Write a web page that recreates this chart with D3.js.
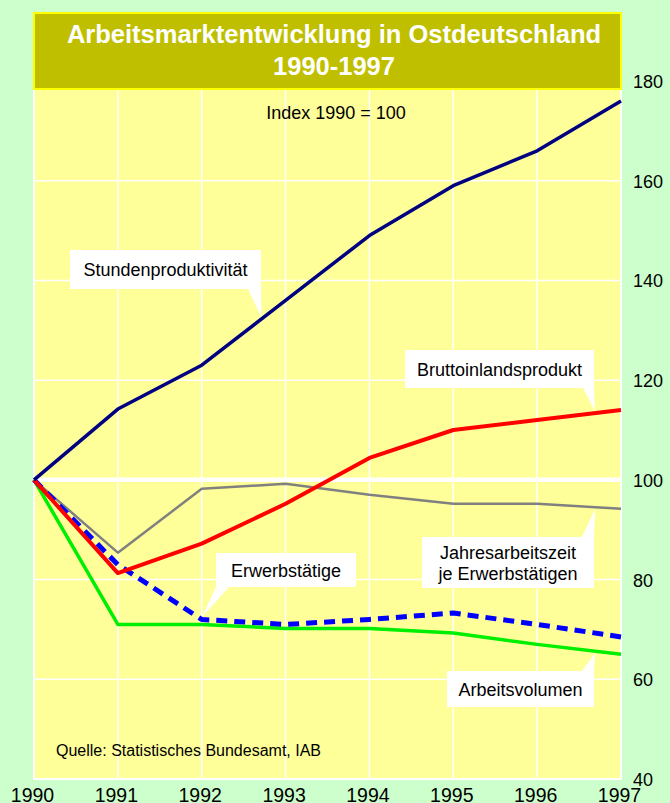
<!DOCTYPE html>
<html><head><meta charset="utf-8">
<script src="https://cdn.jsdelivr.net/npm/d3@7"></script>
<style>body{margin:0;background:#ccffcc;}svg{display:block;font-family:"Liberation Sans",Arial,sans-serif;}</style>
</head><body>
<script>
const years = [1990,1991,1992,1993,1994,1995,1996,1997];
const stundenproduktivitaet = [100,114.2,123,136,149,159,166,176];
const bruttoinlandsprodukt = [100,81.3,87.2,95.2,104.4,110,112,114];
const jahresarbeitszeit = [100,85.4,98.2,99.2,97,95.2,95.2,94.2];
const erwerbstaetige = [100,83,72,71,72,73.3,71,68.5];
const arbeitsvolumen = [100,71,71,70.2,70.2,69.3,67,65];
const yTicks = [40,60,80,100,120,140,160,180];
const titleLines = ["Arbeitsmarktentwicklung in Ostdeutschland","1990-1997"];

const W=670,H=803;
const svg=d3.select("body").append("svg").attr("width",W).attr("height",H);
svg.append("rect").attr("width",W).attr("height",H).attr("fill","#ccffcc");

const x=d3.scaleLinear().domain([1990,1997]).range([34,621]);
const y=d3.scaleLinear().domain([40,180]).range([779,81]);

// plot area
svg.append("rect").attr("x",x(1990)).attr("y",y(180)).attr("width",x(1997)-x(1990)).attr("height",y(40)-y(180))
  .attr("fill","#ffff99");
// grid
svg.append("g").selectAll("line").data(years).join("line")
  .attr("x1",d=>x(d)).attr("x2",d=>x(d)).attr("y1",y(180)).attr("y2",y(40))
  .attr("stroke","#fff").attr("stroke-width",1.5);
svg.append("g").selectAll("line").data(yTicks).join("line")
  .attr("x1",x(1990)).attr("x2",x(1997)).attr("y1",d=>y(d)).attr("y2",d=>y(d))
  .attr("stroke","#fff").attr("stroke-width",d=>d===100?4.5:1.5);
svg.append("rect").attr("x",x(1990)).attr("y",y(180)).attr("width",x(1997)-x(1990)).attr("height",y(40)-y(180))
  .attr("fill","none").attr("stroke","#fff").attr("stroke-width",2);

// title box
svg.append("rect").attr("x",34).attr("y",13).attr("width",587).attr("height",76)
  .attr("fill","#bfbf00").attr("stroke","#ffff00").attr("stroke-width",2);
svg.append("g").selectAll("text").data(titleLines).join("text")
  .attr("x",334).attr("y",(d,i)=>43+i*32).attr("text-anchor","middle")
  .attr("fill","#fff").attr("font-weight","bold").attr("font-size",25.5).text(d=>d);

// axes
const yAxis=d3.axisRight(y).tickValues(yTicks).tickSize(0).tickPadding(0);
const gy=svg.append("g").attr("transform",`translate(633,0)`).call(yAxis);
gy.select(".domain").remove();
gy.selectAll("text").attr("font-size",18).attr("font-family","Liberation Sans, Arial, sans-serif").attr("fill","#000").attr("dy","0.36em");
const xAxis=d3.axisBottom(x).tickValues(years).tickFormat(d3.format("d")).tickSize(0).tickPadding(0);
const gx=svg.append("g").attr("transform",`translate(-2,788)`).call(xAxis);
gx.select(".domain").remove();
gx.selectAll("text").attr("font-size",19.5).attr("font-family","Liberation Sans, Arial, sans-serif").attr("fill","#000").attr("dy","0.72em");

// lines
const line=d3.line().x((d,i)=>x(years[i])).y(d=>y(d));
const series=[
 {v:jahresarbeitszeit,c:"#808080",w:2.5},
 {v:arbeitsvolumen,c:"#00ee00",w:3.5},
 {v:erwerbstaetige,c:"#0000ff",w:5,dash:"11,7"},
 {v:bruttoinlandsprodukt,c:"#ff0000",w:4},
 {v:stundenproduktivitaet,c:"#000080",w:3.5}
];
svg.append("g").selectAll("path").data(series).join("path")
  .attr("d",d=>line(d.v)).attr("fill","none").attr("stroke",d=>d.c).attr("stroke-width",d=>d.w)
  .attr("stroke-dasharray",d=>d.dash||null).attr("stroke-linejoin","round");

// text annotations
svg.append("text").attr("x",336).attr("y",119).attr("text-anchor","middle").attr("font-size",18).text("Index 1990 = 100");
svg.append("text").attr("x",56).attr("y",756).attr("font-size",16).text("Quelle: Statistisches Bundesamt, IAB");

function interp(vals,yr){const i=Math.min(6,Math.floor(yr-1990));const t=yr-1990-i;return vals[i]+(vals[i+1]-vals[i])*t;}
const callouts=[
 {lines:["Stundenproduktivität"],box:[70,250,261,289],side:"bottom",base:[248,261],yr:1992.71,vals:stundenproduktivitaet},
 {lines:["Bruttoinlandsprodukt"],box:[405,350,594,388],side:"bottom",base:[583,594],yr:1996.69,vals:bruttoinlandsprodukt},
 {lines:["Jahresarbeitszeit","je Erwerbstätigen"],box:[422,537,594,588],side:"top",base:[582,594],yr:1996.69,vals:jahresarbeitszeit},
 {lines:["Erwerbstätige"],box:[216,553,356,587],side:"bottom",base:[216,229],yr:1992.0,vals:erwerbstaetige},
 {lines:["Arbeitsvolumen"],box:[447,671,594,707],side:"top",base:[582,594],yr:1996.69,vals:arbeitsvolumen}
];
const cg=svg.append("g");
callouts.forEach(c=>{
  const [x0,y0,x1,y1]=c.box;
  const tx=x(c.yr), ty=y(interp(c.vals,c.yr));
  const by=c.side==="bottom"?y1:y0;
  cg.append("rect").attr("x",x0).attr("y",y0).attr("width",x1-x0).attr("height",y1-y0).attr("fill","#fff");
  cg.append("path").attr("d",`M${c.base[0]},${by}L${tx},${ty+(c.side==="bottom"?-2:2)}L${c.base[1]},${by}Z`).attr("fill","#fff");
  const n=c.lines.length;
  c.lines.forEach((l,i)=>{
    cg.append("text").attr("x",(x0+x1)/2).attr("y",(y0+y1)/2+6.5-(n-1)*10+i*20.5).attr("text-anchor","middle")
      .attr("font-size",18).text(l);
  });
});
</script>
</body></html>
